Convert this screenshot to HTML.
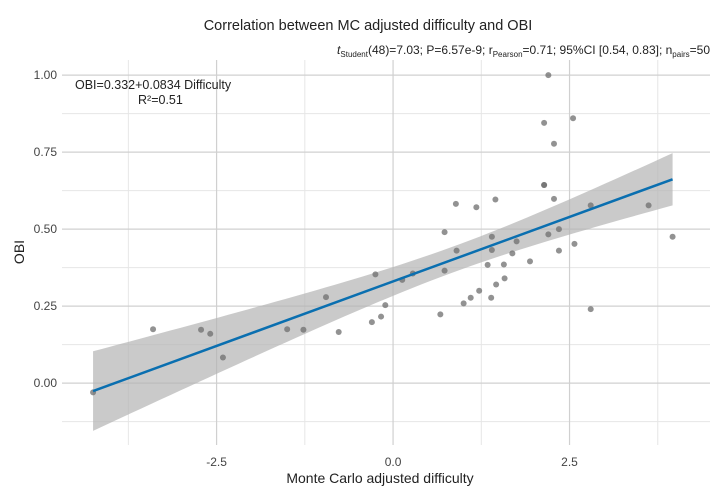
<!DOCTYPE html>
<html><head><meta charset="utf-8"><style>
html,body{margin:0;padding:0;background:#fff;}
svg{display:block;font-family:"Liberation Sans","DejaVu Sans",sans-serif;}
</style></head><body>
<svg id="chart" width="723" height="499" viewBox="0 0 723 499">
<text x="368" y="30" text-anchor="middle" font-size="14.5" fill="#222">Correlation between MC adjusted difficulty and OBI</text>
<text x="710" y="54" text-anchor="end" font-size="12" fill="#222"><tspan font-style="italic">t</tspan><tspan font-size="8" dy="3">Student</tspan><tspan dy="-3">(48)=7.03; P=6.57e-9; r</tspan><tspan font-size="8" dy="3">Pearson</tspan><tspan dy="-3">=0.71; 95%CI [0.54, 0.83]; n</tspan><tspan font-size="8" dy="3">pairs</tspan><tspan dy="-3">=50</tspan></text>
<g id="grid"></g>
<g id="band"></g>
<g id="points"></g>
<g id="fit"></g>
<g id="axes"></g>
<text x="75" y="89" font-size="12.5" fill="#222">OBI=0.332+0.0834 Difficulty</text>
<text x="138" y="104" font-size="12.5" fill="#222">R²=0.51</text>
<text x="380" y="483" text-anchor="middle" font-size="14" fill="#222">Monte Carlo adjusted difficulty</text>
<text x="24" y="252" text-anchor="middle" font-size="14" fill="#222" transform="rotate(-90 24 252)">OBI</text>
</svg>
<script>
const xValues=[-4.25,-3.40,-2.72,-2.59,-2.41,-1.50,-1.27,-0.95,-0.77,-0.25,-0.30,-0.17,-0.11,
2.20,2.14,2.55,2.28,2.14,2.14,2.28,1.45,0.89,1.18,2.80,3.62,0.73,1.40,2.20,2.35,1.75,3.96,0.90,1.40,1.69,2.35,2.57,1.94,1.34,1.57,0.73,0.28,1.58,1.46,1.22,1.10,1.39,1.00,0.67,2.80,0.13];
const yValues=[-0.03,0.175,0.173,0.16,0.083,0.175,0.173,0.279,0.166,0.353,0.198,0.216,0.253,
1.00,0.845,0.86,0.777,0.643,0.643,0.598,0.596,0.582,0.571,0.577,0.577,0.49,0.475,0.483,0.50,0.46,0.475,0.43,0.432,0.421,0.43,0.452,0.395,0.384,0.385,0.365,0.356,0.34,0.32,0.30,0.277,0.277,0.259,0.223,0.24,0.335];
const xTicks=[-2.5,0,2.5];
const xTickLabels=["-2.5","0.0","2.5"];
const xMinor=[-3.75,-1.25,1.25,3.75];
const yTicks=[0,0.25,0.5,0.75,1.0];
const yTickLabels=["0.00","0.25","0.50","0.75","1.00"];
const yMinor=[-0.125,0.125,0.375,0.625,0.875];

const L=62,R=710,T=60,B=445;
const xmin=-4.69,xmax=4.49,ymin=-0.201,ymax=1.049;
const sx=v=>L+(v-xmin)/(xmax-xmin)*(R-L);
const sy=v=>B-(v-ymin)/(ymax-ymin)*(B-T);
const NS="http://www.w3.org/2000/svg";
function mk(tag,attrs,parent){const e=document.createElementNS(NS,tag);for(const k in attrs)e.setAttribute(k,attrs[k]);parent.appendChild(e);return e;}
const grid=document.getElementById('grid');
xMinor.forEach(v=>{const l=mk('line',{x1:sx(v),x2:sx(v),y1:T,y2:B,stroke:'#e6e6e6','stroke-width':1},grid);

});
yMinor.forEach(v=>{const l=mk('line',{x1:L,x2:R,y1:sy(v),y2:sy(v),stroke:'#e6e6e6','stroke-width':1},grid);

});
xTicks.forEach(v=>{const l=mk('line',{x1:sx(v),x2:sx(v),y1:T,y2:B,stroke:'#d0d0d0','stroke-width':1.2},grid);

});
yTicks.forEach(v=>{const l=mk('line',{x1:L,x2:R,y1:sy(v),y2:sy(v),stroke:'#d0d0d0','stroke-width':1.2},grid);

});
const axes=document.getElementById('axes');
xTicks.forEach((v,i)=>{const t=mk('text',{x:sx(v),y:466,'text-anchor':'middle','font-size':12,fill:'#444'},axes);t.textContent=xTickLabels[i];

});
yTicks.forEach((v,i)=>{const t=mk('text',{x:57,y:sy(v)+4,'text-anchor':'end','font-size':12,fill:'#444'},axes);t.textContent=yTickLabels[i];

});

// regression
const n=xValues.length;
const mx=xValues.reduce((a,b)=>a+b,0)/n, my=yValues.reduce((a,b)=>a+b,0)/n;
let sxx=0,sxy=0;for(let i=0;i<n;i++){sxx+=(xValues[i]-mx)**2;sxy+=(xValues[i]-mx)*(yValues[i]-my);}
const b1=sxy/sxx,b0=my-b1*mx;
let sse=0;for(let i=0;i<n;i++){sse+=(yValues[i]-b0-b1*xValues[i])**2;}
const s=Math.sqrt(sse/(n-2)),tq=2.01;
const x0=Math.min(...xValues),x1=Math.max(...xValues);
const up=[],lo=[];
for(let k=0;k<=60;k++){const x=x0+(x1-x0)*k/60;const f=b0+b1*x;const se=tq*s*Math.sqrt(1/n+(x-mx)**2/sxx);up.push(sx(x)+','+sy(f+se));lo.unshift(sx(x)+','+sy(f-se));}
const band=mk('polygon',{points:up.concat(lo).join(' '),fill:'#b3b3b3','fill-opacity':0.7},document.getElementById('band'));


const pts=document.getElementById('points');
for(let i=0;i<n;i++){const c=mk('circle',{cx:sx(xValues[i]),cy:sy(yValues[i]),r:3,fill:'#6e6e6e','fill-opacity':0.75},pts);

}
const fl=mk('line',{x1:sx(x0),y1:sy(b0+b1*x0),x2:sx(x1),y2:sy(b0+b1*x1),stroke:'#0a6fb0','stroke-width':2.5},document.getElementById('fit'));


</script>
</body></html>
